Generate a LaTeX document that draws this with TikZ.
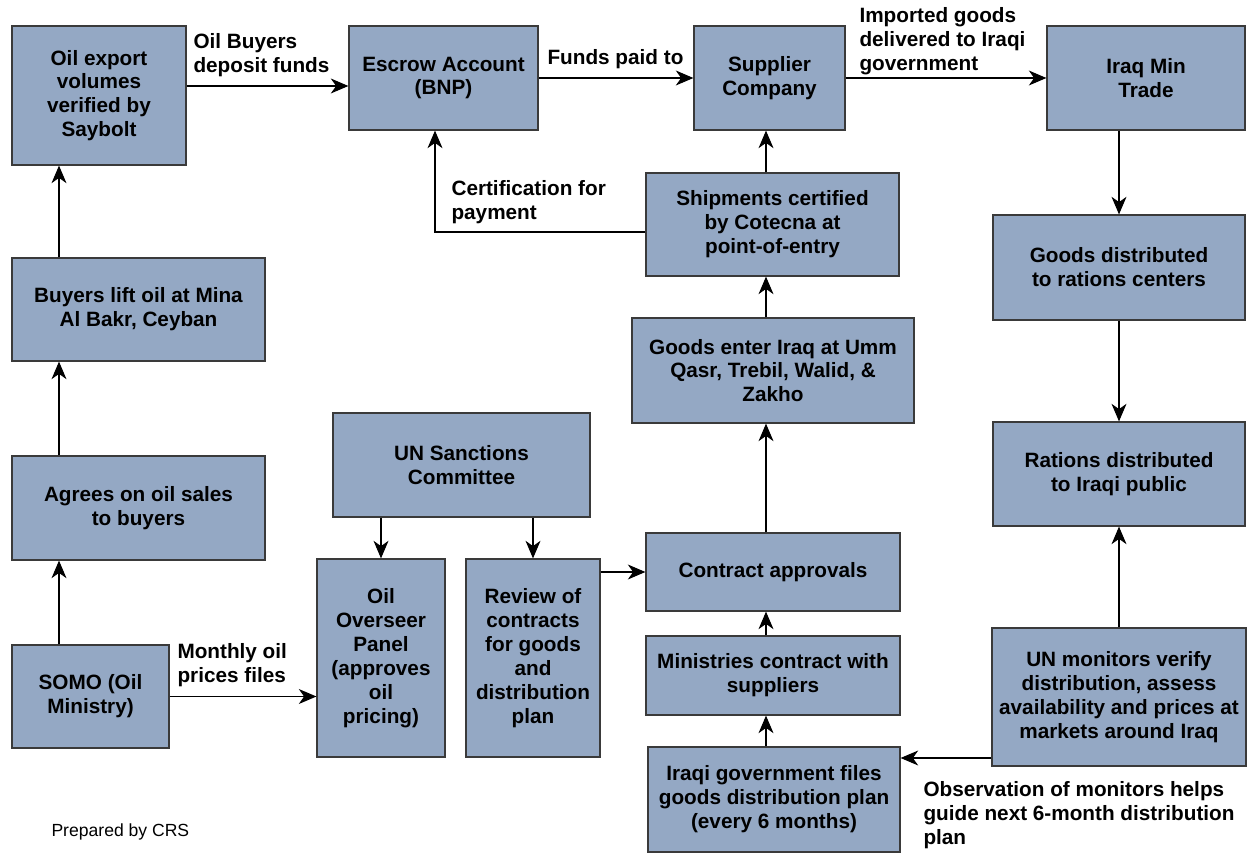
\documentclass[tikz,border=0pt]{standalone}
\usepackage{fontspec}
\setmainfont{Liberation Sans}
\usetikzlibrary{arrows.meta}
\definecolor{boxfill}{HTML}{94A8C4}
\definecolor{boxline}{HTML}{3A3A3A}
\begin{document}
\begin{tikzpicture}[x=0.02cm, y=-0.02cm, line width=0.6pt,
        font=\fontsize{11.8}{13.6}\selectfont\bfseries,
        >={Stealth[length=10pt,width=8.5pt,inset=3pt]},
        box/.style={draw=boxline, fill=boxfill, line width=0.7pt, align=center, inner sep=1pt},
        lbl/.style={anchor=north west, align=left, inner sep=0pt}]
        \path[use as bounding box, fill=white] (0,0) rectangle (1247,854);

        \node[box, minimum width=3.48cm, minimum height=2.78cm] (saybolt) at (99,95.5) {Oil export\\volumes\\verified by\\Saybolt};
        \node[box, minimum width=3.78cm, minimum height=2.08cm] (escrow) at (443.5,78) {Escrow Account\\(BNP)};
        \node[box, minimum width=3.02cm, minimum height=2.08cm] (supplier) at (769.5,78) {Supplier\\Company};
        \node[box, minimum width=3.96cm, minimum height=2.08cm] (mintrade) at (1146,78) {Iraq Min\\Trade};
        \node[box, minimum width=5.06cm, minimum height=2.06cm] (shipments) at (772.5,224.5) {Shipments certified\\by Cotecna at\\point-of-entry};
        \node[box, minimum width=5.04cm, minimum height=2.10cm] (goodsdist) at (1119,267.5) {Goods distributed\\to rations centers};
        \node[box, minimum width=5.06cm, minimum height=2.06cm] (buyers) at (138.5,309.5) {Buyers lift oil at Mina\\Al Bakr, Ceyban};
        \node[box, minimum width=5.64cm, minimum height=2.10cm] (enter) at (773,370.5) {Goods enter Iraq at Umm\\Qasr, Trebil, Walid, \&\\Zakho};
        \node[box, minimum width=5.14cm, minimum height=2.08cm] (unsc) at (461.5,465) {UN Sanctions\\Committee};
        \node[box, minimum width=5.04cm, minimum height=2.08cm] (rations) at (1119,474) {Rations distributed\\to Iraqi public};
        \node[box, minimum width=5.06cm, minimum height=2.08cm] (agrees) at (138.5,508) {Agrees on oil sales\\to buyers};
        \node[box, minimum width=2.56cm, minimum height=3.96cm] (panel) at (381,658) {Oil\\Overseer\\Panel\\(approves\\oil\\pricing)};
        \node[box, minimum width=2.68cm, minimum height=3.96cm] (review) at (533,658) {Review of\\contracts\\for goods\\and\\distribution\\plan};
        \node[box, minimum width=5.08cm, minimum height=1.56cm] (approvals) at (773,572) {Contract approvals};
        \node[box, minimum width=5.08cm, minimum height=1.58cm] (ministries) at (773,675.5) {Ministries contract with\\suppliers};
        \node[box, minimum width=3.14cm, minimum height=2.06cm] (somo) at (90.5,696.5) {SOMO (Oil\\Ministry)};
        \node[box, minimum width=5.08cm, minimum height=2.76cm] (monitors) at (1119,697) {UN monitors verify\\distribution, assess\\availability and prices at\\markets around Iraq};
        \node[box, minimum width=5.04cm, minimum height=2.10cm] (govfiles) at (774,799.5) {Iraqi government files\\goods distribution plan\\(every 6 months)};

        \node[lbl] (depositlbl) at (193,33) {Oil Buyers\\deposit funds};
        \node[lbl] (paidlbl) at (547,49) {Funds paid to};
        \node[lbl] (importlbl) at (859,7) {Imported goods\\delivered to Iraqi\\government};
        \node[lbl] (certlbl) at (451,180) {Certification for\\payment};
        \node[lbl] (monthlylbl) at (177,643) {Monthly oil\\prices files};
        \node[lbl] (obslbl) at (923,781) {Observation of monitors helps\\guide next 6-month distribution\\plan};
        \node[lbl, font=\fontsize{10}{12}\selectfont] (crslbl) at (51,823) {Prepared by CRS};

        \coordinate (L) at (59,0);
        \coordinate (T) at (0,86);
        \coordinate (C) at (766,0);
        \coordinate (B) at (435,232);
        \coordinate (M) at (0,758);

        \draw[->] (somo.north -| L) -- (agrees.south -| L);
        \draw[->] (agrees.north -| L) -- (buyers.south -| L);
        \draw[->] (buyers.north -| L) -- (saybolt.south -| L);
        \draw[->] (saybolt.east |- T) -- (escrow.west |- T);
        \draw[->] (escrow.east) -- (supplier.west);
        \draw[->] (supplier.east) -- (mintrade.west);
        \draw[->] (mintrade.south -| goodsdist.north) -- (goodsdist.north);
        \draw[->] (goodsdist.south) -- (rations.north);
        \draw[->] (monitors.north) -- (rations.south);
        \draw[->] (monitors.west |- M) -- (govfiles.east |- M);
        \draw[->] (govfiles.north -| C) -- (ministries.south -| C);
        \draw[->] (ministries.north -| C) -- (approvals.south -| C);
        \draw[->] (approvals.north -| C) -- (enter.south -| C);
        \draw[->] (enter.north -| C) -- (shipments.south -| C);
        \draw[->] (shipments.north -| C) -- (supplier.south -| C);
        \draw[->] (shipments.west |- B) -| (escrow.south -| B);
        \draw[->] (unsc.south -| panel.north) -- (panel.north);
        \draw[->] (unsc.south -| review.north) -- (review.north);
        \draw[->] (review.east |- approvals.west) -- (approvals.west);
        \draw[->] (somo.east) -- (somo.east -| panel.west);
    \end{tikzpicture}
\end{document}
